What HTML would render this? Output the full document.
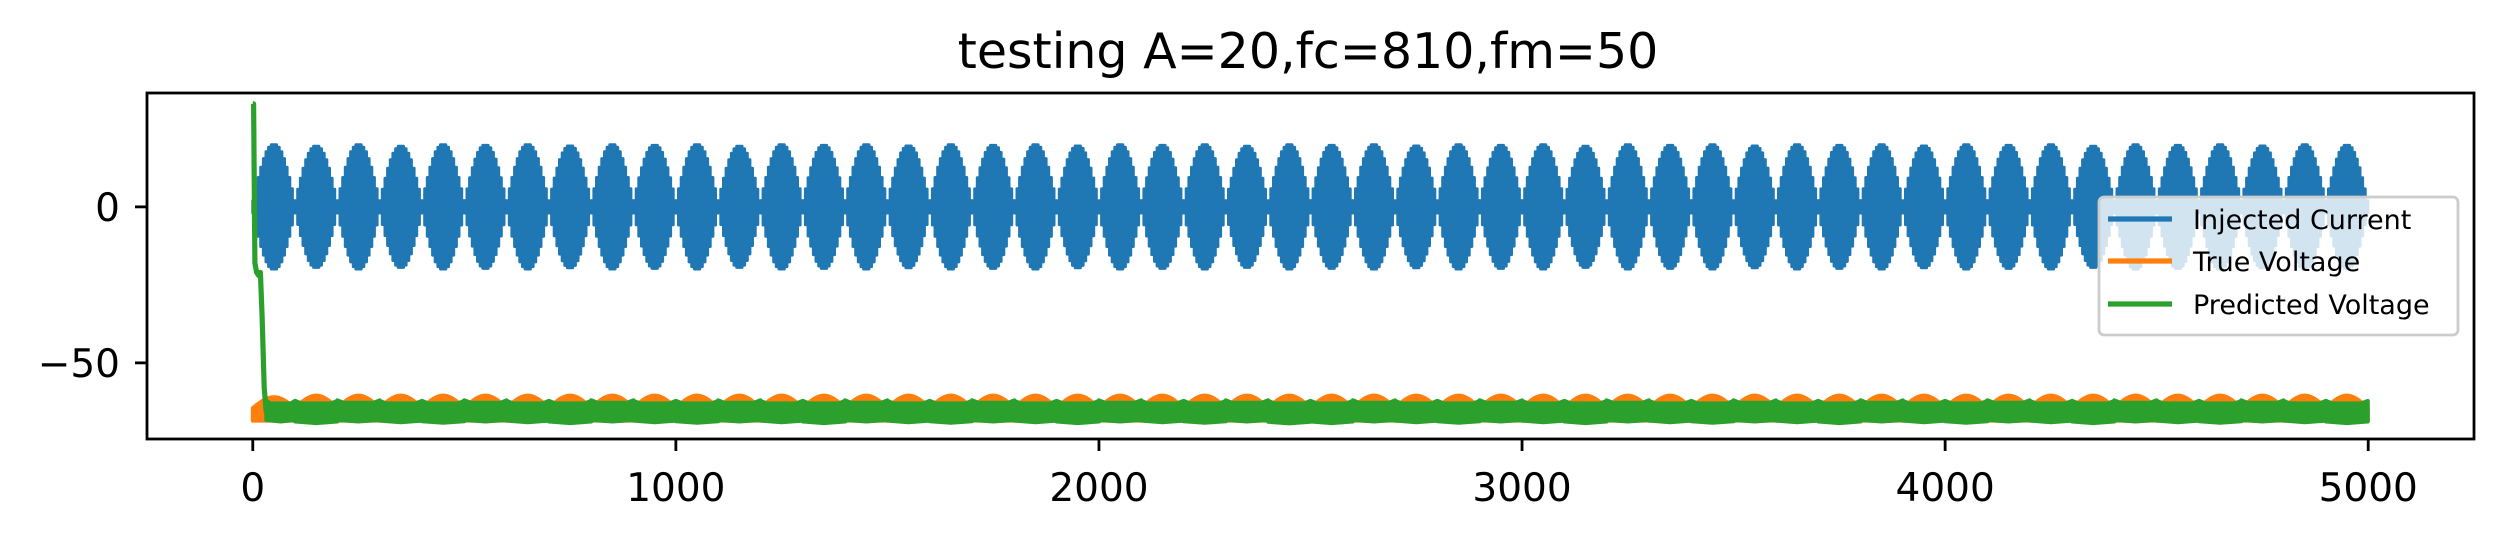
<!DOCTYPE html>
<html><head><meta charset="utf-8"><style>
html,body{margin:0;padding:0;background:#fff;}
svg{display:block;font-family:"DejaVu Sans","Liberation Sans",sans-serif;}
</style></head><body>
<svg id="chart" width="2502" height="540" viewBox="0 0 2502 540" xmlns="http://www.w3.org/2000/svg">
<rect width="2502" height="540" fill="#fff"/>
<text x="1308" y="68" text-anchor="middle" font-size="49" fill="#000">testing A=20,fc=810,fm=50</text>
<defs><clipPath id="clip"><rect x="147" y="93" width="2327" height="346"/></clipPath></defs>
<g id="plot" clip-path="url(#clip)"></g>
<g id="axes"></g>
<g id="legend"></g>
</svg>
<script>
// ---- data ----
const xTicks = [0, 1000, 2000, 3000, 4000, 5000];
const yTicks = [0, -50];
const yTickLabels = ["0", "\u221250"];
const lobePeriod = 100; // samples per modulation lobe
const currentPeaks = [20,19.5,20,19.5,20,19.8,20,19.6,20,19.8,20,19.5,20,19.8,20,19.6,20,19.8,20,19.6,20,19.8,20,19.5,20,19.8,20,19.6,20,19.8,20,19.5,20,19.8,20,19.6,20,19.8,20,19.6,20,19.8,20,19.5,20,19.8,20,19.6,20,19.8];
const trueTop = [-61,-60.5,-60.5,-60.5,-60.5,-60.5,-60.5,-60.5,-60.5,-60.5,-60.5,-60.5,-60.5,-60.5,-60.5,-60.5,-60.5,-60.5,-60.5,-60.5,-60.5,-60.5,-60.5,-60.5,-60.5,-60.5,-60.5,-60.5,-60.5,-60.5,-60.5,-60.5,-60.5,-60.5,-60.5,-60.5,-60.5,-60.5,-60.5,-60.5,-60.5,-60.5,-60.5,-60.5,-60.5,-60.5,-60.5,-60.5,-60.5,-60.5];
const trueBottom = -68.5;
const trueBase = -64.5;
const predTop = [-63,-63,-62.8,-63,-63,-62.8,-63,-63,-62.8,-63,-63,-62.8,-63,-63,-62.8,-63,-63,-62.8,-63,-63,-62.8,-63,-63,-62.8,-63,-63,-62.8,-63,-63,-62.8,-63,-63,-62.8,-63,-63,-62.8,-63,-63,-62.8,-63,-63,-62.8,-63,-63,-62.8,-63,-63,-62.8,-63,-63];
const predBottom = [-68.8,-69.3,-68.8,-69,-69.2,-68.8,-69,-69.3,-68.8,-69,-69.2,-68.8,-69,-69.3,-68.8,-69,-69.2,-68.8,-69,-69.3,-68.8,-69,-69.2,-68.8,-69.4,-69.3,-68.8,-69,-69.2,-68.8,-69,-69.3,-68.8,-69,-69.2,-68.8,-69,-69.3,-68.8,-69,-69.2,-68.8,-69,-69.3,-68.8,-69,-69.2,-68.8,-69,-69.3];
const predTransientX = [0, 2, 5, 9, 14, 18, 22, 27, 32];
const predTransientY = [33, 33, -18, -21, -22, -21, -35, -58, -66];

// ---- axes functions ----
const X0 = 147, X1 = 2474, Y0 = 93, Y1 = 439;
const xmin = -250, xmax = 5250, ymin = -74.4, ymax = 36.5;
const sx = v => X0 + (v - xmin) / (xmax - xmin) * (X1 - X0);
const sy = v => Y1 - (v - ymin) / (ymax - ymin) * (Y1 - Y0);
const NS = "http://www.w3.org/2000/svg";
const plot = document.getElementById('plot');
const axes = document.getElementById('axes');
const legend = document.getElementById('legend');
function mk(tag, attrs, parent) {
  const e = document.createElementNS(NS, tag);
  for (const k in attrs) e.setAttribute(k, attrs[k]);
  parent.appendChild(e);
  return e;
}
const BLUE = "#1f77b4", ORANGE = "#ff7f0e", GREEN = "#2ca02c";

// current lobes (stepped envelope)
currentPeaks.forEach((pk, i) => {
  const a = i * lobePeriod, b = Math.min(a + lobePeriod, 4999);
  let top = [], bot = [];
  const N = 16;
  for (let s = 0; s < N; s++) {
    const env = pk * Math.sin(Math.PI * (s + 0.5) / N);
    const xa = sx(a + (s / N) * (b - a)), xb = sx(a + ((s + 1) / N) * (b - a));
    top.push(xa.toFixed(1) + "," + sy(env).toFixed(1), xb.toFixed(1) + "," + sy(env).toFixed(1));
    bot.unshift(xb.toFixed(1) + "," + sy(-env).toFixed(1), xa.toFixed(1) + "," + sy(-env).toFixed(1));
  }
  const p = mk('polygon', {points: top.concat(bot).join(" "), fill: BLUE, stroke: BLUE, 'stroke-width': 3, 'stroke-linejoin': 'round'}, plot);
  
  
});

// true voltage lobes
trueTop.forEach((tp, i) => {
  const a = i * lobePeriod, b = Math.min(a + lobePeriod, 4999);
  let top = [];
  for (let s = 0; s <= 20; s++) {
    const t = s / 20, xv = a + t * (b - a);
    const v = trueBase + (tp - trueBase) * Math.sin(Math.PI * t);
    top.push(sx(xv).toFixed(1) + "," + sy(v).toFixed(1));
  }
  top.push(sx(b).toFixed(1) + "," + sy(trueBottom).toFixed(1));
  top.push(sx(a).toFixed(1) + "," + sy(trueBottom).toFixed(1));
  const p = mk('polygon', {points: top.join(" "), fill: ORANGE, stroke: ORANGE, 'stroke-width': 4, 'stroke-linejoin': 'round'}, plot);
  
  
});

// predicted voltage band
predTop.forEach((tp, i) => {
  const a = Math.max(i * lobePeriod, 32), b = Math.min(i * lobePeriod + lobePeriod, 4999);
  const bt = predBottom[i];
  const pts = [[a, tp + 0.8], [a + (b - a) * 0.15, tp], [a + (b - a) * 0.85, tp], [b, tp + 0.8], [b, bt + 0.5], [a + (b - a) * 0.5, bt], [a, bt + 0.5]];
  const p = mk('polygon', {points: pts.map(q => sx(q[0]).toFixed(1) + "," + sy(q[1]).toFixed(1)).join(" "), fill: GREEN, stroke: GREEN, 'stroke-width': 4, 'stroke-linejoin': 'round'}, plot);
  
  
});
const tr = mk('polyline', {points: predTransientX.map((x, i) => sx(x).toFixed(1) + "," + sy(predTransientY[i]).toFixed(1)).join(" "), fill: 'none', stroke: GREEN, 'stroke-width': 5.2, 'stroke-linejoin': 'round'}, plot);



// frame
const fr = mk('rect', {x: X0, y: Y0, width: X1 - X0, height: Y1 - Y0, fill: 'none', stroke: '#000', 'stroke-width': 2.8}, axes);



xTicks.forEach(v => {
  const t = mk('line', {x1: sx(v), x2: sx(v), y1: Y1, y2: Y1 + 12, stroke: '#000', 'stroke-width': 2.8}, axes);
  
  
  const l = mk('text', {x: sx(v), y: 501, 'text-anchor': 'middle', 'font-size': 39, fill: '#000'}, axes);
  l.textContent = String(v);
  
  
});
yTicks.forEach((v, i) => {
  const t = mk('line', {x1: X0 - 12, x2: X0, y1: sy(v), y2: sy(v), stroke: '#000', 'stroke-width': 2.8}, axes);
  
  
  const l = mk('text', {x: X0 - 27, y: sy(v) + 14, 'text-anchor': 'end', 'font-size': 39, fill: '#000'}, axes);
  l.textContent = yTickLabels[i];
  
  
});

// legend
const lb = mk('rect', {x: 2099, y: 197, width: 359, height: 138, rx: 5, fill: 'rgba(255,255,255,0.8)', stroke: '#cccccc', 'stroke-width': 2.8}, legend);


const legLabels = ["Injected Current", "True Voltage", "Predicted Voltage"];
const legColors = [BLUE, ORANGE, GREEN];
const legY = [219, 261, 304];
legLabels.forEach((s, i) => {
  const ln = mk('line', {x1: 2108, x2: 2172, y1: legY[i], y2: legY[i], stroke: legColors[i], 'stroke-width': 5.2}, legend);
  
  
  const tx = mk('text', {x: 2193, y: legY[i] + 10, 'font-size': 27, fill: '#000'}, legend);
  tx.textContent = s;
  
  
});
</script>
</body></html>
